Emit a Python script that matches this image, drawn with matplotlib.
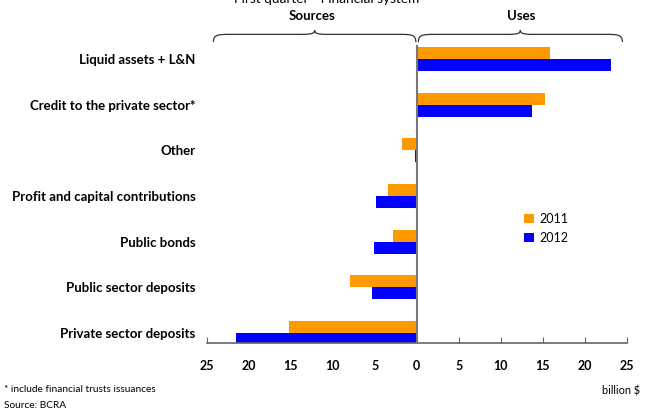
import numpy as np
import matplotlib
matplotlib.use('Agg')
import matplotlib.pyplot as plt
from matplotlib.path import Path
from matplotlib.patches import PathPatch

plt.rcParams['font.family'] = ['Lato', 'DejaVu Sans']

categories = ['Liquid assets + L&N', 'Credit to the private sector*', 'Other',
              'Profit and capital contributions', 'Public bonds',
              'Public sector deposits', 'Private sector deposits']
vals_2011 = [15.9, 15.3, -1.75, -3.45, -2.8, -7.9, -15.2]
vals_2012 = [23.1, 13.7, -0.2, -4.85, -5.1, -5.3, -21.5]
tick_vals = [-25, -20, -15, -10, -5, 0, 5, 10, 15, 20, 25]
tick_text = ['25', '20', '15', '10', '5', '0', '5', '10', '15', '20', '25']

orange = '#ff9900'
blue = '#0000ff'

fig = plt.figure(figsize=(6.5, 4.12), dpi=100)
ax = fig.add_axes([0.318, 0.1667, 0.646, 0.7241])

n = len(categories)
ypos = np.arange(n)[::-1]
h = 0.26
ax.barh(ypos + h / 2, vals_2011, height=h, color=orange, label='2011', zorder=2)
ax.barh(ypos - h / 2, vals_2012, height=h, color=blue, label='2012', zorder=2)

ax.set_xlim(-25, 25)
ax.set_ylim(-0.225, 6.306)
ax.axvline(0, color='#777777', lw=1.5, zorder=3)

ax.set_yticks(ypos)
ax.set_yticklabels(categories, fontsize=9.5, fontweight='bold')
ax.tick_params(axis='y', length=0, pad=8)
ax.set_xticks(tick_vals)
ax.set_xticklabels(tick_text, fontsize=9, fontweight='bold')
ax.tick_params(axis='x', direction='in', length=4, color='#666666', pad=12)

for s in ['left', 'right', 'top']:
    ax.spines[s].set_visible(False)
ax.spines['bottom'].set_color('#666666')
ax.spines['bottom'].set_linewidth(1.2)


def brace(x0, x1, y0, y1):
    # curly brace opening downward, tip at the top
    w = x1 - x0
    hh = y1 - y0
    pts = [(0, 0), (0, 0.6), (0.02, 0.65), (0.08, 0.65),
           (0.44, 0.65),
           (0.49, 0.65), (0.5, 0.75), (0.5, 1.0),
           (0.5, 0.75), (0.51, 0.65), (0.56, 0.65),
           (0.92, 0.65),
           (0.98, 0.65), (1.0, 0.6), (1.0, 0)]
    codes = [Path.MOVETO, Path.CURVE4, Path.CURVE4, Path.CURVE4,
             Path.LINETO,
             Path.CURVE4, Path.CURVE4, Path.CURVE4,
             Path.CURVE4, Path.CURVE4, Path.CURVE4,
             Path.LINETO,
             Path.CURVE4, Path.CURVE4, Path.CURVE4]
    verts = [(x0 + u * w, y0 + v * hh) for u, v in pts]
    ax.add_patch(PathPatch(Path(verts, codes), fill=False, lw=0.9,
                           edgecolor='#333333', clip_on=False))


brace(-24.2, -0.1, 6.37, 6.63)
brace(0.2, 24.5, 6.37, 6.63)
ax.text(-12.5, 6.95, 'Sources', ha='center', va='center', fontsize=9.5,
        fontweight='bold', clip_on=False)
ax.text(12.5, 6.95, 'Uses', ha='center', va='center', fontsize=9.5,
        fontweight='bold', clip_on=False)

ax.legend(loc='upper left', bbox_to_anchor=(0.73, 0.475), frameon=False,
          fontsize=9, handlelength=0.8, handleheight=0.8, handletextpad=0.4,
          labelspacing=0.55)

fig.text(0.502, 1 - 3 / 412, 'First quarter - Financial system', ha='center',
         va='baseline', fontsize=9.8)
fig.text(0.006, 1 - 389 / 412, '* include financial trusts issuances',
         ha='left', va='center', fontsize=7.3)
fig.text(0.006, 1 - 405 / 412, 'Source: BCRA', ha='left', va='center',
         fontsize=7.3)
fig.text(0.985, 1 - 391 / 412, 'billion $', ha='right', va='center',
         fontsize=7.8)

fig.savefig('out.png', dpi=100)
